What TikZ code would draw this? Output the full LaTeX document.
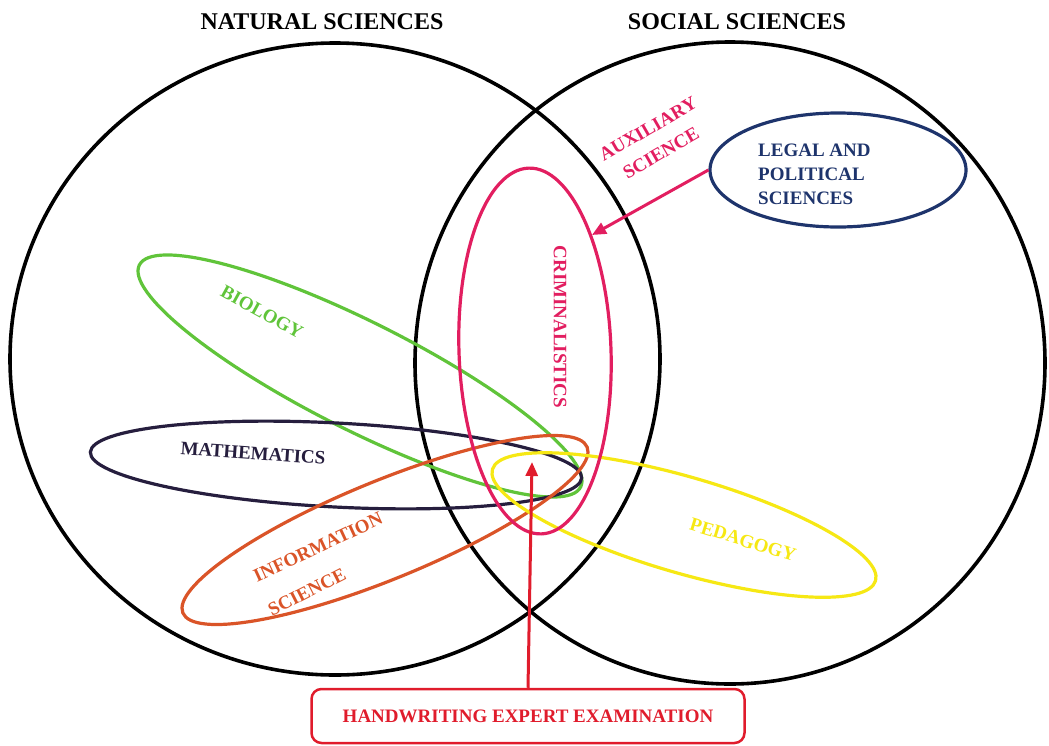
\documentclass[tikz,border=0pt]{standalone}
\usepackage{fontspec}
\setmainfont{Liberation Serif}
\usetikzlibrary{shapes.geometric,arrows.meta}
\definecolor{crim}{RGB}{226,30,96}
\definecolor{hwred}{RGB}{224,28,44}
\definecolor{navy}{RGB}{30,52,108}
\definecolor{mathc}{RGB}{38,30,62}
\definecolor{bio}{RGB}{96,196,58}
\definecolor{info}{RGB}{218,84,40}
\definecolor{ped}{RGB}{246,232,20}
\tikzset{
  big/.style={ellipse, draw=black, line width=3.6pt, inner sep=0pt},
  field/.style={ellipse, line width=3.2pt, inner sep=0pt},
  lbl/.style={font=\fontsize{19}{24}\selectfont\bfseries, inner sep=0pt},
  head/.style={font=\fontsize{24}{28}\selectfont\bfseries, inner sep=0pt},
  arr/.style={line width=3pt, -{Triangle[length=14pt,width=12pt]}},
}
\begin{document}
\begin{tikzpicture}[x=1pt,y=-1pt]
\useasboundingbox (0,0) rectangle (1049,745);

% two fields of science
\node[big, minimum width=650pt, minimum height=632pt] (natural) at (335,359) {};
\node[big, minimum width=630pt, minimum height=642pt] (social) at (730,363) {};
\node[head] (natlabel) at (322,22) {NATURAL SCIENCES};
\node[head] (soclabel) at (737,22) {SOCIAL SCIENCES};

% disciplines
\node[field, draw=bio, minimum width=494pt, minimum height=108pt, rotate=-26.7] (biology) at (360,376) {};
\node[field, draw=mathc, minimum width=492pt, minimum height=84pt, rotate=-3] (maths) at (336,465) {};
\node[field, draw=info, minimum width=437pt, minimum height=98pt, rotate=22.3] (infosci) at (385,530) {};
\node[field, draw=ped, minimum width=399pt, minimum height=96pt, rotate=-16.2] (pedagogy) at (684,525) {};
\node[field, draw=crim, minimum width=152pt, minimum height=366pt, rotate=2] (crimin) at (535,351) {};
\node[field, draw=navy, minimum width=256pt, minimum height=114pt] (legal) at (838,170) {};

% labels
\node[lbl, text=bio, rotate=-29] (biotxt) at (262,312) {BIOLOGY};
\node[lbl, text=mathc, rotate=-4] (mathtxt) at (253,453) {MATHEMATICS};
\node[lbl, text=info, rotate=25] (infotxt1) at (318,547) {INFORMATION};
\node[lbl, text=info, rotate=27] (infotxt2) at (307,592) {SCIENCE};
\node[lbl, text=ped, rotate=-17] (pedtxt) at (743,540) {PEDAGOGY};
\node[lbl, text=crim, rotate=-90] (crimtxt) at (560,327) {CRIMINALISTICS};
\node[lbl, text=crim, rotate=30] (auxtxt1) at (648,129) {AUXILIARY};
\node[lbl, text=crim, rotate=30] (auxtxt2) at (661,153) {SCIENCE};
\node[lbl, text=navy, align=left, anchor=west] (legaltxt) at (758,174) {LEGAL AND\\POLITICAL\\SCIENCES};

% auxiliary link
\coordinate (auxtip) at (592,235);
\draw[arr, crim] (legal.west) -- (auxtip);

% handwriting expert examination
\node[lbl, text=hwred, draw=hwred, line width=2.5pt, rounded corners=10pt,
      minimum width=433pt, minimum height=54pt] (hw) at (528,716) {HANDWRITING EXPERT EXAMINATION};
\coordinate (hwtip) at (532,462);
\draw[arr, hwred] (hw.north) -- (hwtip);
\end{tikzpicture}
\end{document}
